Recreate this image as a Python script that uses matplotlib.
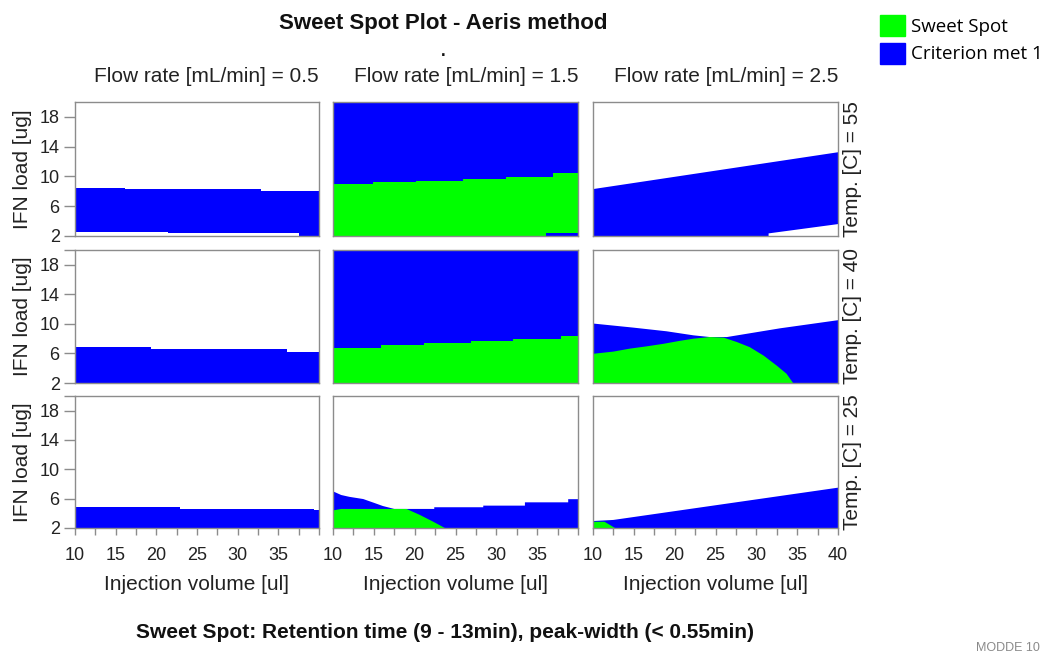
import matplotlib
matplotlib.use('Agg')
import matplotlib.pyplot as plt
from matplotlib.patches import Patch

plt.rcParams['font.family'] = ['Liberation Sans', 'DejaVu Sans']

W, H = 1042, 654
BLUE = '#0000FF'
GREEN = '#00FF00'
FRAME = '#8c8c8c'

temps = [55, 40, 25]
flows = [0.5, 1.5, 2.5]
y_ticks = [2, 6, 10, 14, 18]
x_ticks = [10, 12.5, 15, 17.5, 20, 22.5, 25, 27.5, 30, 32.5, 35, 37.5, 40]
x_labels = ['10', '', '15', '', '20', '', '25', '', '30', '', '35', '', '40']

# region boundaries as (injection volume, IFN load) points
floor_line = [(10, 2), (40, 2)]
ceiling_line = [(10, 20), (40, 20)]

t55_f05_blue_top = [(10, 8.5), (16.1, 8.5), (16.1, 8.3), (32.9, 8.3), (32.9, 8.1), (40, 8.1)]
t55_f05_blue_bot = [(10, 2.6), (21.4, 2.6), (21.4, 2.35), (37.6, 2.35), (37.6, 2.0), (40, 2.0)]

t55_f15_green_top = [(10, 9.0), (14.9, 9.0), (14.9, 9.2), (20.2, 9.2), (20.2, 9.4), (25.9, 9.4),
                     (25.9, 9.6), (31.2, 9.6), (31.2, 9.9), (36.9, 9.9), (36.9, 10.4), (40, 10.4)]
t55_f15_green_bot = [(10, 2), (36.1, 2), (36.1, 2.35), (40, 2.35)]

t55_f25_blue_top = [(10, 8.3), (40, 13.25)]
t55_f25_blue_bot = [(10, 2), (31.5, 2), (31.5, 2.35), (40, 3.6)]

t40_f05_blue_top = [(10, 6.85), (19.4, 6.85), (19.4, 6.65), (36.1, 6.65), (36.1, 6.15), (40, 6.15)]

t40_f15_green_top = [(10, 6.8), (15.9, 6.8), (15.9, 7.2), (21.2, 7.2), (21.2, 7.4), (26.9, 7.4),
                     (26.9, 7.65), (32.0, 7.65), (32.0, 8.0), (37.9, 8.0), (37.9, 8.3), (40, 8.3)]

t40_f25_blue_top = [(10, 10.05), (14.9, 9.5), (19.0, 9.0), (22.3, 8.45), (24.3, 8.22),
                    (26.4, 8.22), (32.9, 9.4), (40, 10.5)]
t40_f25_green_top = [(10, 5.95), (12.5, 6.25), (14.5, 6.65), (16.5, 6.95), (18.6, 7.3), (20.6, 7.7),
                     (22.3, 8.0), (24.3, 8.22), (26.0, 8.14), (27.6, 7.55), (29.2, 6.85), (30.9, 5.7),
                     (32.5, 4.35), (33.7, 3.25), (34.5, 2.0)]
t40_f25_green_bot = [(10, 2), (34.5, 2)]

t25_f05_blue_top = [(10, 4.85), (22.9, 4.85), (22.9, 4.65), (39.4, 4.65), (39.4, 4.4), (40, 4.4)]

t25_f15_blue_top = [(10, 7.0), (11.0, 6.5), (12.0, 6.25), (13.7, 5.95), (15.1, 5.4), (16.1, 5.0),
                    (17.5, 4.6), (22.4, 4.6), (22.4, 4.83), (28.4, 4.83), (28.4, 5.05), (33.5, 5.05),
                    (33.5, 5.5), (38.8, 5.5), (38.8, 5.93), (40, 5.93)]
t25_f15_green_top = [(10, 4.4), (11.0, 4.6), (19.0, 4.6), (20.6, 3.8), (22.2, 2.9), (23.7, 2.0)]
t25_f15_green_bot = [(10, 2), (23.7, 2)]

t25_f25_blue_top = [(10, 2.95), (12.5, 3.1), (40, 7.5)]
t25_f25_green_top = [(10, 2.85), (11.4, 2.85), (12.7, 2.0)]
t25_f25_green_bot = [(10, 2), (12.7, 2)]

# (blue top, blue bottom, green top, green bottom) per panel
panels = {
    (55, 0.5): (t55_f05_blue_top, t55_f05_blue_bot, None, None),
    (55, 1.5): (ceiling_line, floor_line, t55_f15_green_top, t55_f15_green_bot),
    (55, 2.5): (t55_f25_blue_top, t55_f25_blue_bot, None, None),
    (40, 0.5): (t40_f05_blue_top, floor_line, None, None),
    (40, 1.5): (ceiling_line, floor_line, t40_f15_green_top, floor_line),
    (40, 2.5): (t40_f25_blue_top, floor_line, t40_f25_green_top, t40_f25_green_bot),
    (25, 0.5): (t25_f05_blue_top, floor_line, None, None),
    (25, 1.5): (t25_f15_blue_top, floor_line, t25_f15_green_top, t25_f15_green_bot),
    (25, 2.5): (t25_f25_blue_top, floor_line, t25_f25_green_top, t25_f25_green_bot),
}

col_px = [(75, 319), (333, 578), (593, 838)]
row_px = [(102, 236), (250, 383), (396, 528)]


def region(ax, top, bottom, color):
    # polygon between an upper and a lower boundary
    xs = [p[0] for p in top] + [p[0] for p in reversed(bottom)]
    ys = [p[1] for p in top] + [p[1] for p in reversed(bottom)]
    ax.fill(xs, ys, color=color, lw=0, zorder=1)


fig = plt.figure(figsize=(W / 100, H / 100), dpi=100)

for r, temp in enumerate(temps):
    top_px, bot_px = row_px[r]
    for c, flow in enumerate(flows):
        left_px, right_px = col_px[c]
        ax = fig.add_axes([left_px / W, 1 - bot_px / H,
                           (right_px - left_px) / W, (bot_px - top_px) / H])
        blue_top, blue_bot, green_top, green_bot = panels[(temp, flow)]
        region(ax, blue_top, blue_bot, BLUE)
        if green_top is not None:
            region(ax, green_top, green_bot, GREEN)
        ax.set_xlim(10, 40)
        ax.set_ylim(2, 20)
        for s in ax.spines.values():
            s.set_color(FRAME)
            s.set_linewidth(1.0)
            s.set_zorder(3)

        if c == 0:
            if r == 0:
                ax.set_yticks(y_ticks)
                ax.set_yticklabels([str(v) for v in y_ticks])
            else:
                ax.set_yticks(y_ticks + [20])
                ax.set_yticklabels([str(v) for v in y_ticks] + [''])
            ax.tick_params(axis='y', direction='out', length=8, width=1, color=FRAME,
                           labelsize=13, labelcolor='#222222', pad=3)
            ax.text(-(75 - 23) / 244, 0.5, 'IFN load [ug]', rotation=90, fontsize=15,
                    color='#222222', ha='center', va='center', transform=ax.transAxes)
        else:
            ax.set_yticks([])

        if r == 2:
            ax.set_xticks(x_ticks)
            labels = x_labels if c == 2 else x_labels[:-1] + ['']
            ax.set_xticklabels(labels)
            ax.tick_params(axis='x', direction='out', length=5, width=1, color=FRAME,
                           labelsize=13, labelcolor='#222222', pad=9)
            ax.text(0.5, -(584 - bot_px) / (bot_px - top_px), 'Injection volume [ul]',
                    fontsize=15, color='#222222', ha='center', va='center',
                    transform=ax.transAxes)
        else:
            ax.set_xticks([])

        if r == 0:
            ax.text(1.0, 1 + (top_px - 76) / (bot_px - top_px),
                    'Flow rate [mL/min] = %g' % flow, fontsize=15, color='#222222',
                    ha='right', va='center', transform=ax.transAxes)
        if c == 2:
            ax.text(1 + (852 - right_px) / (right_px - left_px), 0.5,
                    'Temp. [C] = %d' % temp, rotation=90, fontsize=15, color='#222222',
                    ha='center', va='center', transform=ax.transAxes)

fig.text(443 / W, 1 - 24 / H, 'Sweet Spot Plot - Aeris method', fontsize=16,
         fontweight='bold', ha='center', va='center', color='#111111')
fig.text(443 / W, 1 - 56 / H, '.', fontsize=12, fontweight='bold', ha='center',
         va='baseline', color='#111111')

fig.legend(handles=[Patch(color=GREEN, label='Sweet Spot'),
                    Patch(color=BLUE, label='Criterion met 1')],
           loc='upper left', bbox_to_anchor=(876 / W, 1 - 11 / H), frameon=False,
           handlelength=1.35, handleheight=1.35, handletextpad=0.3, labelspacing=0.36,
           borderaxespad=0, borderpad=0.2,
           prop={'family': 'Open Sans', 'size': 13.5})

fig.text(445 / W, 1 - 633 / H,
         'Sweet Spot: Retention time (9 - 13min), peak-width (< 0.55min)',
         fontsize=15, fontweight='bold', ha='center', va='center', color='#111111')
fig.text(1040 / W, 1 - 648 / H, 'MODDE 10', fontsize=9, color='#8a8a8a',
         ha='right', va='center')

fig.savefig('out.png', dpi=100)
